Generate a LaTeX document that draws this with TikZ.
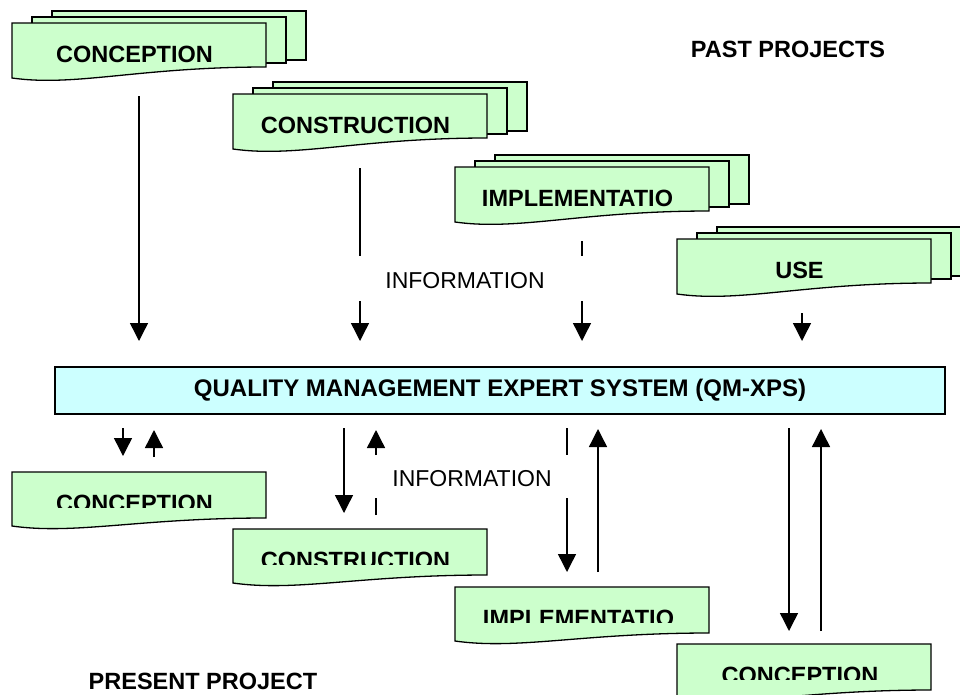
\documentclass[tikz,border=0pt]{standalone}
\usepackage{fontspec}
\setmainfont{Liberation Sans}
\usetikzlibrary{arrows.meta}
\definecolor{docgreen}{HTML}{CCFFCC}
\definecolor{qmcyan}{HTML}{CCFFFF}
\tikzset{
  page/.style={draw=black, fill=docgreen, line width=1.3pt, line join=miter},
  boldlabel/.style={font=\fontsize{23.5}{26}\selectfont\bfseries, inner sep=0pt},
  infolabel/.style={font=\fontsize{23}{26}\selectfont, inner sep=0pt},
  flow/.style={line width=1.4pt},
  flowarrow/.style={line width=1.4pt, -{Triangle[length=18pt,width=18pt]}},
  qmbox/.style={draw=black, fill=qmcyan, line width=1.3pt, inner sep=0pt,
    minimum width=890pt, minimum height=47pt,
    font=\fontsize{24}{26}\selectfont\bfseries},
}
% front page with wavy bottom: #1 x, #2 y, #3 left height, #4 right height
\newcommand\frontpage[4]{%
  \path[page] (#1,#2) -- (#1+254,#2) -- (#1+254,#2+#4)
    .. controls (#1+127,#2+#4) and (#1+63.5,#2+#3+9) .. (#1,#2+#3) -- cycle;}
\newcommand\pagestack[2]{%
  \path[page] (#1+40,#2-12) rectangle (#1+294,#2+37);
  \path[page] (#1+20,#2-6) rectangle (#1+274,#2+40);
  \frontpage{#1}{#2}{55}{44}}
\begin{document}
\begin{tikzpicture}[x=1pt,y=-1pt]
\useasboundingbox (0,0) rectangle (960,694);

% ---------- past projects ----------
\pagestack{12}{23}
\node[boldlabel, anchor=base] (pconc) at (134.5,62) {CONCEPTION};
\pagestack{233}{94}
\node[boldlabel, anchor=base] (pcons) at (355.5,133) {CONSTRUCTION};
\pagestack{455}{167}
\node[boldlabel, anchor=base] (pimpl) at (577.5,206) {IMPLEMENTATIO};
\pagestack{677}{239}
\node[boldlabel, anchor=base] (puse) at (799.5,278) {USE};

\node[boldlabel, anchor=base] (past) at (788,57) {PAST PROJECTS};

% ---------- main system ----------
\node[qmbox] (qm) at (500,390.5) {QUALITY MANAGEMENT EXPERT SYSTEM (QM-XPS)};

% ---------- present project ----------
\frontpage{12}{472}{54}{46}
\begin{scope}
  \clip (12,472) rectangle (266,507);
  \node[boldlabel, anchor=base] (nconc) at (134.5,511) {CONCEPTION};
\end{scope}
\frontpage{233}{529}{54}{46}
\begin{scope}
  \clip (233,529) rectangle (487,564);
  \node[boldlabel, anchor=base] (ncons) at (355.5,568) {CONSTRUCTION};
\end{scope}
\frontpage{455}{587}{54}{46}
\begin{scope}
  \clip (455,587) rectangle (709,622);
  \node[boldlabel, anchor=base] (nimpl) at (578.5,626) {IMPLEMENTATIO};
\end{scope}
\frontpage{677}{644}{54}{46}
\begin{scope}
  \clip (677,644) rectangle (931,679);
  \node[boldlabel, anchor=base] (nconc2) at (800,683) {CONCEPTION};
\end{scope}

\node[boldlabel, anchor=base] (present) at (203,689) {PRESENT PROJECT};

% ---------- information labels ----------
\node[infolabel] (info1) at (465,281) {INFORMATION};
\node[infolabel] (info2) at (472,479) {INFORMATION};

% ---------- connector coordinates ----------
\coordinate (a1s) at (139,96);   \coordinate (a1e) at (139,341);
\coordinate (a2s) at (360,168);  \coordinate (a2m) at (360,256);
\coordinate (a2n) at (360,301);  \coordinate (a2e) at (360,341);
\coordinate (a3s) at (582,241);  \coordinate (a3m) at (582,256);
\coordinate (a3n) at (582,301);  \coordinate (a3e) at (582,341);
\coordinate (a4s) at (802,313);  \coordinate (a4e) at (802,341);

\coordinate (b1ds) at (123,428); \coordinate (b1de) at (123,456);
\coordinate (b1us) at (154,457); \coordinate (b1ue) at (154,430);
\coordinate (b2ds) at (344,428); \coordinate (b2de) at (344,513);
\coordinate (b2us) at (376,515); \coordinate (b2um) at (376,498);
\coordinate (b2un) at (376,455); \coordinate (b2ue) at (376,430);
\coordinate (b3ds) at (567,428); \coordinate (b3dm) at (567,455);
\coordinate (b3dn) at (567,498); \coordinate (b3de) at (567,572);
\coordinate (b3us) at (598,572); \coordinate (b3ue) at (598,429);
\coordinate (b4ds) at (789,428); \coordinate (b4de) at (789,631);
\coordinate (b4us) at (821,631); \coordinate (b4ue) at (821,429);

% ---------- connectors: past -> system ----------
\draw[flowarrow] (a1s) -- (a1e);
\draw[flow] (a2s) -- (a2m);
\draw[flowarrow] (a2n) -- (a2e);
\draw[flow] (a3s) -- (a3m);
\draw[flowarrow] (a3n) -- (a3e);
\draw[flowarrow] (a4s) -- (a4e);

% ---------- connectors: system <-> present ----------
\draw[flowarrow] (b1ds) -- (b1de);
\draw[flowarrow] (b1us) -- (b1ue);
\draw[flowarrow] (b2ds) -- (b2de);
\draw[flow] (b2us) -- (b2um);
\draw[flowarrow] (b2un) -- (b2ue);
\draw[flow] (b3ds) -- (b3dm);
\draw[flowarrow] (b3dn) -- (b3de);
\draw[flowarrow] (b3us) -- (b3ue);
\draw[flowarrow] (b4ds) -- (b4de);
\draw[flowarrow] (b4us) -- (b4ue);
\end{tikzpicture}
\end{document}
